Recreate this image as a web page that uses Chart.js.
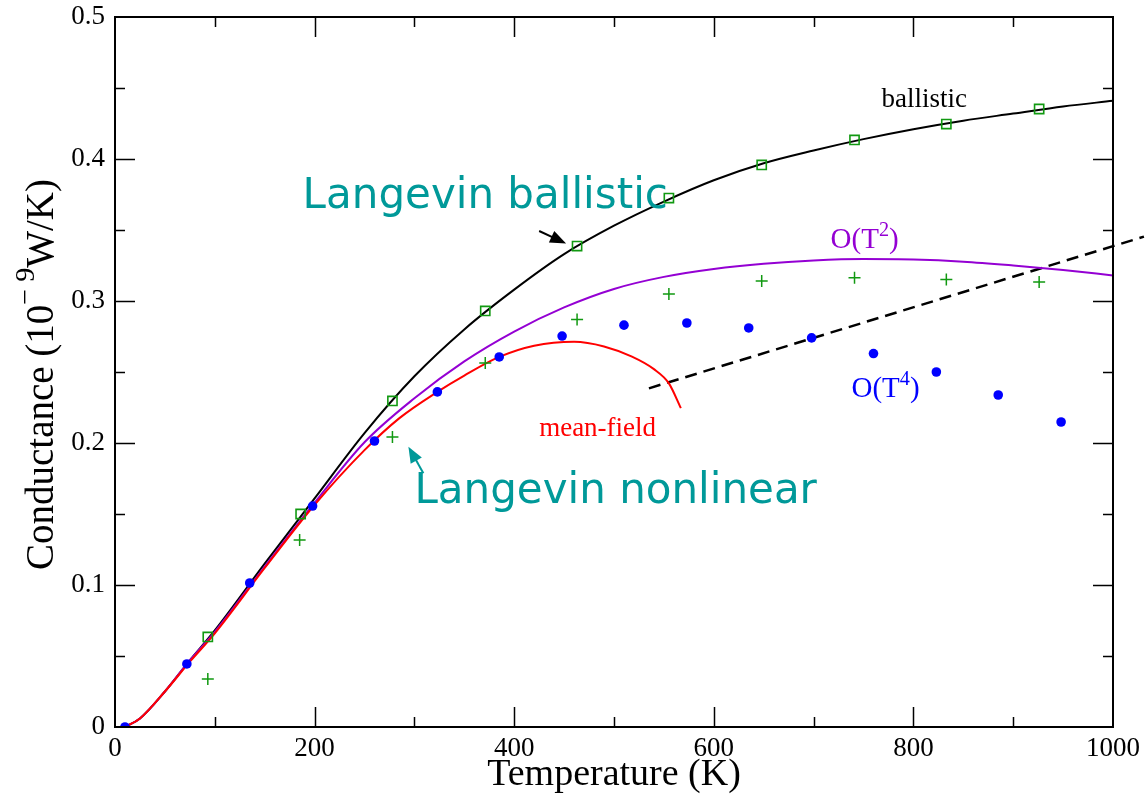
<!DOCTYPE html>
<html>
<head>
<meta charset="utf-8">
<title>Conductance vs temperature</title>
<script src="https://cdn.jsdelivr.net/npm/chart.js@4.4.0/dist/chart.umd.min.js"></script>
<style>
  html, body { margin: 0; padding: 0; background: #fff; }
  #wrap { width: 1146px; height: 803px; }
</style>
</head>
<body>
<div id="wrap"><canvas id="cond" width="1146" height="803"></canvas></div>
<script>
// ballistic curve (black)
const ballisticT = [10, 25, 50, 75, 100, 150, 200, 250, 300, 350, 400, 450, 500, 550, 600, 650, 700, 750, 800, 850, 900, 950, 1000];
const ballisticG = [0, 0.006, 0.025, 0.047, 0.068, 0.115, 0.161, 0.207, 0.247, 0.280, 0.308, 0.333, 0.353, 0.370, 0.385, 0.397, 0.406, 0.414, 0.421, 0.427, 0.432, 0.437, 0.441];

// O(T^2) perturbative curve (purple)
const quadT = [10, 25, 50, 75, 100, 150, 200, 250, 300, 350, 400, 450, 500, 550, 600, 650, 700, 750, 800, 850, 900, 950, 1000];
const quadG = [0, 0.006, 0.025, 0.047, 0.067, 0.113, 0.158, 0.2005, 0.2315, 0.2575, 0.2785, 0.2955, 0.3085, 0.317, 0.3225, 0.3262, 0.3285, 0.3295, 0.3292, 0.3277, 0.325, 0.3218, 0.318];

// mean-field curve (red)
const meanFieldT = [10, 25, 50, 75, 100, 150, 200, 250, 285, 323, 350, 385, 420, 460, 490, 518, 540, 555, 567];
const meanFieldG = [0, 0.006, 0.025, 0.046, 0.066, 0.112, 0.1565, 0.195, 0.2175, 0.236, 0.2475, 0.2606, 0.2685, 0.2713, 0.268, 0.2608, 0.252, 0.242, 0.2246];

// Langevin ballistic (open squares)
const langBallT = [93, 186, 278, 371, 463, 555, 648, 741, 833, 926];
const langBallG = [0.0634, 0.150, 0.2296, 0.293, 0.3387, 0.3725, 0.3958, 0.4134, 0.4246, 0.4352];

// Langevin nonlinear (plus)
const langNonT = [93, 185, 278, 371, 463, 555, 648, 741, 833, 926];
const langNonG = [0.0338, 0.1317, 0.2042, 0.2563, 0.287, 0.305, 0.314, 0.3164, 0.3152, 0.3134];

// O(T^4) (filled dots)
const quartT = [10, 72, 135, 198, 260, 323, 385, 448, 510, 573, 635, 698, 760, 823, 885, 948];
const quartG = [0, 0.0444, 0.1014, 0.1556, 0.2014, 0.236, 0.2606, 0.2753, 0.283, 0.2845, 0.281, 0.274, 0.263, 0.25, 0.2338, 0.2148];

// dashed guide line
const dashT = [535, 1031];
const dashG = [0.2385, 0.3453];

const xTicks = [0, 200, 400, 600, 800, 1000];
const yTicks = [0, 0.1, 0.2, 0.3, 0.4, 0.5];

const SERIF = "'Liberation Serif', 'Times New Roman', serif";
const SANS = "'DejaVu Sans', Verdana, sans-serif";
const TEAL = '#009999';
const GREEN = '#119911';

function pts(xs, ys) {
    return xs.map((t, i) => ({ x: t, y: ys[i] }));
}

// text with optional superscript pieces, drawn left to right from (x, y)
function richText(ctx, parts, x, y, size, family, supScale = 0.7, supRaise = 0.42) {
    let cx = x;
    parts.forEach(p => {
        const fs = p.sup ? size * supScale : size;
        ctx.font = fs + 'px ' + family;
        ctx.fillText(p.t, cx, p.sup ? y - size * supRaise : y);
        cx += ctx.measureText(p.t).width;
    });
    return cx - x;
}

function arrow(ctx, x0, y0, x1, y1, color, head) {
    const ang = Math.atan2(y1 - y0, x1 - x0);
    ctx.strokeStyle = color;
    ctx.fillStyle = color;
    ctx.lineWidth = 2;
    ctx.beginPath();
    ctx.moveTo(x0, y0);
    ctx.lineTo(x1 - Math.cos(ang) * head * 0.8, y1 - Math.sin(ang) * head * 0.8);
    ctx.stroke();
    ctx.beginPath();
    ctx.moveTo(x1, y1);
    ctx.lineTo(x1 - head * Math.cos(ang) + head * 0.4 * Math.sin(ang), y1 - head * Math.sin(ang) - head * 0.4 * Math.cos(ang));
    ctx.lineTo(x1 - head * Math.cos(ang) - head * 0.4 * Math.sin(ang), y1 - head * Math.sin(ang) + head * 0.4 * Math.cos(ang));
    ctx.closePath();
    ctx.fill();
}

// in-plot labels, placed in data units (left edge, baseline)
const notes = [
    { parts: [{ t: 'Langevin ballistic' }], T: 188, G: 0.3653, size: 42, family: SANS, color: TEAL },
    { parts: [{ t: 'Langevin nonlinear' }], T: 300, G: 0.1577, size: 42, family: SANS, color: TEAL },
    { parts: [{ t: 'ballistic' }], T: 768, G: 0.4368, size: 27, family: SERIF, color: '#000' },
    { parts: [{ t: 'O(T' }, { t: '2', sup: true }, { t: ')' }], T: 717, G: 0.3371, size: 29, family: SERIF, color: '#9400d3' },
    { parts: [{ t: 'O(T' }, { t: '4', sup: true }, { t: ')' }], T: 738, G: 0.2326, size: 29, family: SERIF, color: '#0000ff' },
    { parts: [{ t: 'mean-field' }], T: 425, G: 0.2049, size: 27, family: SERIF, color: '#ff0000' }
];

const arrows = [
    { from: [425, 0.3493], to: [452, 0.3405], color: '#000' },
    { from: [309, 0.1787], to: [294, 0.1974], color: TEAL }
];

const framePlugin = {
    id: 'frame',
    afterDraw(chart) {
        const { ctx, chartArea: a, scales: { x, y } } = chart;
        ctx.save();

        // box and inward ticks on all four sides
        ctx.strokeStyle = '#000';
        ctx.lineWidth = 2;
        ctx.strokeRect(a.left, a.top, a.right - a.left, a.bottom - a.top);
        ctx.lineWidth = 1.5;
        ctx.beginPath();
        for (let t = 100; t < 1000; t += 100) {
            const px = Math.round(x.getPixelForValue(t)) + 0.5;
            const len = t % 200 === 0 ? 20 : 10;
            ctx.moveTo(px, a.bottom); ctx.lineTo(px, a.bottom - len);
            ctx.moveTo(px, a.top); ctx.lineTo(px, a.top + len);
        }
        for (let i = 1; i < 10; i++) {
            const py = Math.round(y.getPixelForValue(i * 0.05)) + 0.5;
            const len = i % 2 === 0 ? 20 : 10;
            ctx.moveTo(a.left, py); ctx.lineTo(a.left + len, py);
            ctx.moveTo(a.right, py); ctx.lineTo(a.right - len, py);
        }
        ctx.stroke();

        // arrows
        arrows.forEach(ar => {
            arrow(ctx, x.getPixelForValue(ar.from[0]), y.getPixelForValue(ar.from[1]),
                x.getPixelForValue(ar.to[0]), y.getPixelForValue(ar.to[1]), ar.color, 16);
        });

        // labels
        ctx.textBaseline = 'alphabetic';
        ctx.textAlign = 'left';
        notes.forEach(n => {
            ctx.fillStyle = n.color;
            richText(ctx, n.parts, x.getPixelForValue(n.T), y.getPixelForValue(n.G), n.size, n.family);
        });

        // axis titles
        ctx.fillStyle = '#000';
        ctx.font = '38px ' + SERIF;
        ctx.textAlign = 'center';
        ctx.fillText('Temperature (K)', (a.left + a.right) / 2, 785);

        // y title reads upward, starting just above the 0.1 tick
        const yTitle = [{ t: 'Conductance (10' }, { t: '\u2212 9', sup: true }, { t: 'W/K)' }];
        ctx.textAlign = 'left';
        ctx.translate(53, 570);
        ctx.rotate(-Math.PI / 2);
        richText(ctx, yTitle, 0, 0, 39, SERIF, 0.72, 0.5);
        ctx.restore();
    }
};

// keep the plot box fixed: no extra room for overhanging tick labels
function noPad(s) {
    s.paddingTop = 0; s.paddingBottom = 0; s.paddingLeft = 0; s.paddingRight = 0;
}

Chart.defaults.font.family = SERIF;
Chart.defaults.color = '#000';

new Chart(document.getElementById('cond'), {
    type: 'scatter',
    data: {
        datasets: [
            {
                label: 'O(T^4)', data: pts(quartT, quartG), order: 1,
                pointStyle: 'circle', pointRadius: 4.8, backgroundColor: '#0000ff', borderWidth: 0
            },
            {
                label: 'Langevin ballistic', data: pts(langBallT, langBallG), order: 2,
                pointStyle: 'rect', pointRadius: 6.5, backgroundColor: 'rgba(0,0,0,0)', borderColor: GREEN, borderWidth: 1.6
            },
            {
                label: 'Langevin nonlinear', data: pts(langNonT, langNonG), order: 3,
                pointStyle: 'cross', pointRadius: 6, borderColor: GREEN, borderWidth: 1.5
            },
            {
                label: 'mean-field', data: pts(meanFieldT, meanFieldG), order: 4,
                showLine: true, borderColor: '#ff0000', borderWidth: 2, pointRadius: 0,
                cubicInterpolationMode: 'monotone'
            },
            {
                label: 'O(T^2)', data: pts(quadT, quadG), order: 5,
                showLine: true, borderColor: '#9400d3', borderWidth: 2, pointRadius: 0,
                cubicInterpolationMode: 'monotone'
            },
            {
                label: 'ballistic', data: pts(ballisticT, ballisticG), order: 6,
                showLine: true, borderColor: '#000', borderWidth: 2, pointRadius: 0,
                cubicInterpolationMode: 'monotone'
            },
            {
                label: 'guide', data: pts(dashT, dashG), order: 7,
                showLine: true, borderColor: '#000', borderWidth: 2.5, borderDash: [12, 7], pointRadius: 0,
                clip: false
            }
        ]
    },
    options: {
        responsive: false,
        devicePixelRatio: 1,
        animation: false,
        events: [],
        layout: { padding: { top: 17, right: 33, left: 0, bottom: 0 } },
        plugins: { legend: { display: false }, tooltip: { enabled: false } },
        scales: {
            x: {
                type: 'linear', min: 0, max: 1000,
                grid: { display: false, drawTicks: false },
                border: { display: false },
                afterFit(s) { s.height = 76; noPad(s); },
                afterBuildTicks(s) { s.ticks = xTicks.map(v => ({ value: v })); },
                ticks: { font: { size: 27 }, padding: 6, maxRotation: 0, autoSkip: false, callback: v => String(v) }
            },
            y: {
                type: 'linear', min: 0, max: 0.5,
                grid: { display: false, drawTicks: false },
                border: { display: false },
                afterFit(s) { s.width = 115; noPad(s); },
                afterBuildTicks(s) { s.ticks = yTicks.map(v => ({ value: v })); },
                ticks: { font: { size: 27 }, padding: 10, callback: v => String(+v.toFixed(1)) }
            }
        }
    },
    plugins: [framePlugin]
});
</script>
</body>
</html>
